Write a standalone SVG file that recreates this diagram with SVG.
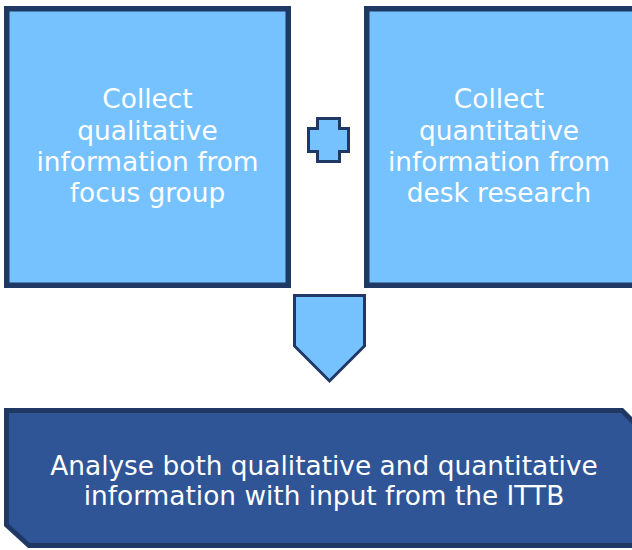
<svg xmlns="http://www.w3.org/2000/svg" width="632" height="550" viewBox="0 0 632 550">
  <style>
    .box { fill: #75C2FF; stroke: #1F3864; stroke-width: 5.5; }
    .shape { fill: #75C2FF; stroke: #1F3864; stroke-width: 3; stroke-linejoin: miter; }
    .final { fill: #2F5597; stroke: #203864; stroke-width: 5; stroke-linejoin: miter; }
    .label { font-family: "DejaVu Sans", "Liberation Sans", sans-serif; fill: #FFFFFF; text-anchor: middle; font-size: 26.4px; }
  </style>
  <rect width="632" height="550" fill="#FFFFFF"/>

  <g id="collect-qualitative">
    <rect class="box" x="6.75" y="8.75" width="281.5" height="276.5"/>
    <text class="label"><tspan x="147.5" y="108">Collect</tspan><tspan x="147.5" y="140">qualitative</tspan><tspan x="147.5" y="171">information from</tspan><tspan x="147.5" y="202">focus group</tspan></text>
  </g>

  <g id="collect-quantitative">
    <rect class="box" x="366.75" y="8.75" width="281.5" height="276.5"/>
    <text class="label"><tspan x="499" y="108">Collect</tspan><tspan x="499" y="140">quantitative</tspan><tspan x="499" y="171">information from</tspan><tspan x="499" y="202">desk research</tspan></text>
  </g>

  <g id="connectors">
    <g id="plus">
      <path class="shape" d="M317.5,118.5 H339.5 V128.5 H348.5 V151.5 H339.5 V161.5 H317.5 V151.5 H308.5 V128.5 H317.5 Z"/>
    </g>
    <g id="down-arrow">
      <path class="shape" d="M294.5,295.5 H364.5 V346 L329.5,381 L294.5,346 Z"/>
    </g>
  </g>

  <g id="analyse">
    <path class="final" d="M6.5,410.5 H622 L640,428.5 V545.5 H29 L6.5,525 Z"/>
    <text class="label"><tspan x="324" y="475">Analyse both qualitative and quantitative</tspan><tspan x="324" y="505">information with input from the ITTB</tspan></text>
  </g>
</svg>
